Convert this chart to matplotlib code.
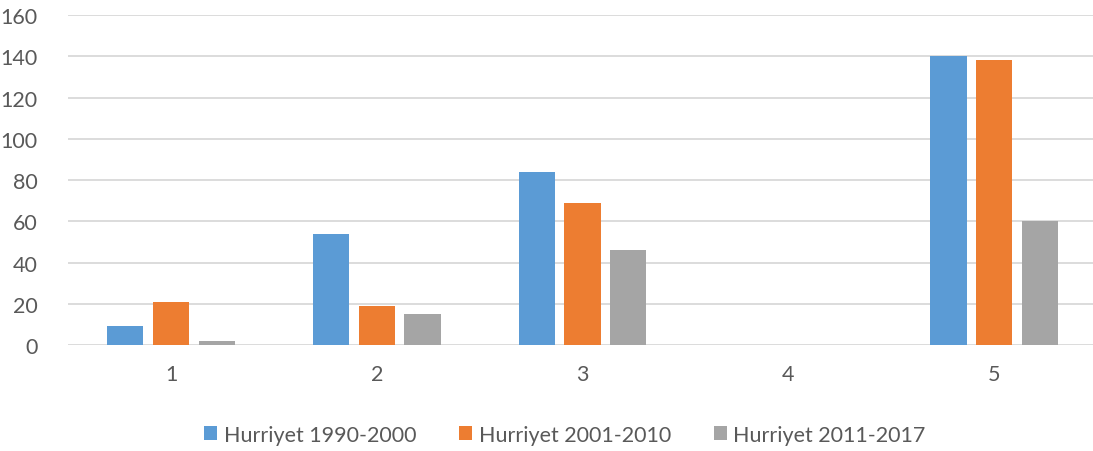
import matplotlib
matplotlib.use("Agg")
import matplotlib.pyplot as plt
import numpy as np

categories = ["1", "2", "3", "4", "5"]
series_names = ["Hurriyet 1990-2000", "Hurriyet 2001-2010", "Hurriyet 2011-2017"]
s1 = [9, 54, 84, 0, 140]
s2 = [21, 19, 69, 0, 138]
s3 = [2, 15, 46, 0, 60]
colors = ["#5B9BD5", "#ED7D31", "#A5A5A5"]
yticks = [0, 20, 40, 60, 80, 100, 120, 140, 160]

plt.rcParams['font.family'] = ['Lato', 'DejaVu Sans']
fig = plt.figure(figsize=(10.93, 4.52), dpi=100)
ax = fig.add_axes([0.0623, 0.2345, 0.9414, 0.730])

x = np.arange(len(categories))
w = 0.176
step = 0.222
for i, (vals, name, c) in enumerate(zip([s1, s2, s3], series_names, colors)):
    ax.bar(x + (i - 1) * step, vals, width=w, color=c, label=name, zorder=3)

ax.set_xlim(-0.5, len(categories) - 0.5)
ax.set_ylim(0, 160)
ax.set_yticks(yticks)
ax.set_xticks(x)
ax.set_xticklabels(categories)
ax.grid(axis='y', color='#D9D9D9', linewidth=1.3, zorder=0)
for s in ax.spines.values():
    s.set_visible(False)
ax.tick_params(axis='both', length=0, labelsize=15.5, colors='#595959')
ax.tick_params(axis='y', pad=22)
ax.tick_params(axis='x', pad=14)

leg = fig.legend(loc='center', bbox_to_anchor=(0.517, 0.036), ncol=3, frameon=False,
                 fontsize=15.5, handlelength=0.6, handleheight=0.6, handletextpad=0.3,
                 columnspacing=2.0, labelcolor='#595959')

fig.savefig("out.png", dpi=100)
